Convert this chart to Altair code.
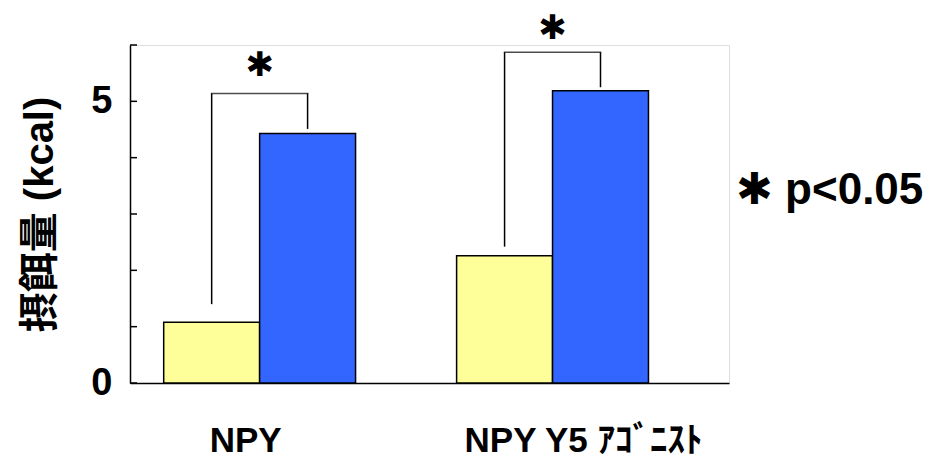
import altair as alt
import pandas as pd

# ---- data ----
groups = ["NPY", "NPY Y5 ｱｺﾞﾆｽﾄ"]
series = ["control", "treated"]
control_vals = [1.08, 2.26]
treated_vals = [4.43, 5.19]
bracket_tops = [5.14, 5.87]
left_leg_bottoms = [1.40, 2.42]
right_leg_bottoms = [4.51, 5.25]
star_y = [5.63, 6.29]
tick_values = [0, 1, 2, 3, 4, 5, 6]
labelled_ticks = [0, 5]
y_title = "摂餌量 (kcal)"
star_text = "✱"
note_text = "✱ p<0.05"

colors = ["#FFFF99", "#3366FF"]
FONT = "Liberation Sans, Arial, Noto Sans CJK JP"
STAR_FONT = "DejaVu Sans"

bars = pd.DataFrame({
    "group": groups * 2,
    "series": [series[0]] * 2 + [series[1]] * 2,
    "value": control_vals + treated_vals,
})
legs = pd.DataFrame({
    "group": groups * 2,
    "series": [series[0]] * 2 + [series[1]] * 2,
    "value": left_leg_bottoms + right_leg_bottoms,
    "value2": bracket_tops + bracket_tops,
})
tops = pd.DataFrame({"group": groups, "value": bracket_tops})
stars = pd.DataFrame({"group": groups, "value": star_y, "t": [star_text] * 2})
ticks = pd.DataFrame({"value": tick_values})
note = pd.DataFrame({"t": [note_text]})

x_scale = alt.Scale(domain=groups, paddingInner=0.345, paddingOuter=0.195, align=0.295)
y_scale = alt.Scale(domain=[0, 6], nice=False, zero=True)

label_test = " || ".join(f"datum.value == {v}" for v in labelled_ticks)

x_enc = alt.X(
    "group:N", sort=groups, scale=x_scale,
    axis=alt.Axis(
        title=None, labelAngle=0, ticks=False, labelFontSize=35, labelFont=FONT,
        labelFontWeight="bold", labelColor="black", labelPadding=40, labelLimit=500,
        labelOffset={"condition": {"test": "datum.value == 'NPY'", "value": -14}, "value": 31},
        domainColor="black", domainWidth=1.5, grid=False,
    ),
)
y_enc = alt.Y(
    "value:Q", scale=y_scale,
    axis=alt.Axis(
        title=y_title, values=tick_values, format="d",
        labelExpr=f"({label_test}) ? datum.label : ''",
        ticks=False, grid=False, labelFontSize=38, labelFont=FONT, labelFontWeight="bold",
        labelColor="black", labelPadding=18, titleFontSize=40, titleFont=FONT,
        titleFontWeight="bold", titleColor="black", titlePadding=30,
        domainColor="black", domainWidth=1.5,
    ),
)

tick_layer = alt.Chart(ticks).mark_rule(color="black", strokeWidth=1.5).encode(
    y=alt.Y("value:Q", scale=y_scale), x=alt.value(0), x2=alt.value(7)
)

bar_layer = alt.Chart(bars).mark_bar(stroke="black", strokeWidth=1.5).encode(
    x=x_enc,
    xOffset=alt.XOffset("series:N", sort=series, scale=alt.Scale(paddingInner=0, paddingOuter=0)),
    y=y_enc,
    color=alt.Color("series:N", scale=alt.Scale(domain=series, range=colors), legend=None),
)

leg_layer = alt.Chart(legs).mark_bar(width=1.5, color="black").encode(
    x=alt.X("group:N", sort=groups, scale=x_scale),
    xOffset=alt.XOffset("series:N", sort=series, scale=alt.Scale(paddingInner=0, paddingOuter=0)),
    y=alt.Y("value:Q", scale=y_scale),
    y2="value2:Q",
)

top_layer = alt.Chart(tops).mark_tick(size=97.5, thickness=1.5, color="black").encode(
    x=alt.X("group:N", sort=groups, scale=x_scale),
    y=alt.Y("value:Q", scale=y_scale),
)

star_layer = alt.Chart(stars).mark_text(
    font=STAR_FONT, fontSize=34, fontWeight="bold", color="black", baseline="middle", align="center"
).encode(
    x=alt.X("group:N", sort=groups, scale=x_scale),
    y=alt.Y("value:Q", scale=y_scale),
    text="t:N",
)

note_layer = alt.Chart(note).mark_text(
    font="Liberation Sans, DejaVu Sans", fontSize=44, fontWeight="bold", color="black",
    baseline="middle", align="left"
).encode(text="t:N", x=alt.value(606), y=alt.value(146))

chart = alt.layer(
    tick_layer, bar_layer, leg_layer, top_layer, star_layer, note_layer
).properties(
    width=599, height=338,
    autosize=alt.AutoSizeParams(type="none"),
    padding={"left": 122, "top": 37, "right": 199, "bottom": 75},
).configure_view(stroke=None).configure(background="white")

chart.save("out.html", embed_options={"renderer": "svg", "actions": False})
